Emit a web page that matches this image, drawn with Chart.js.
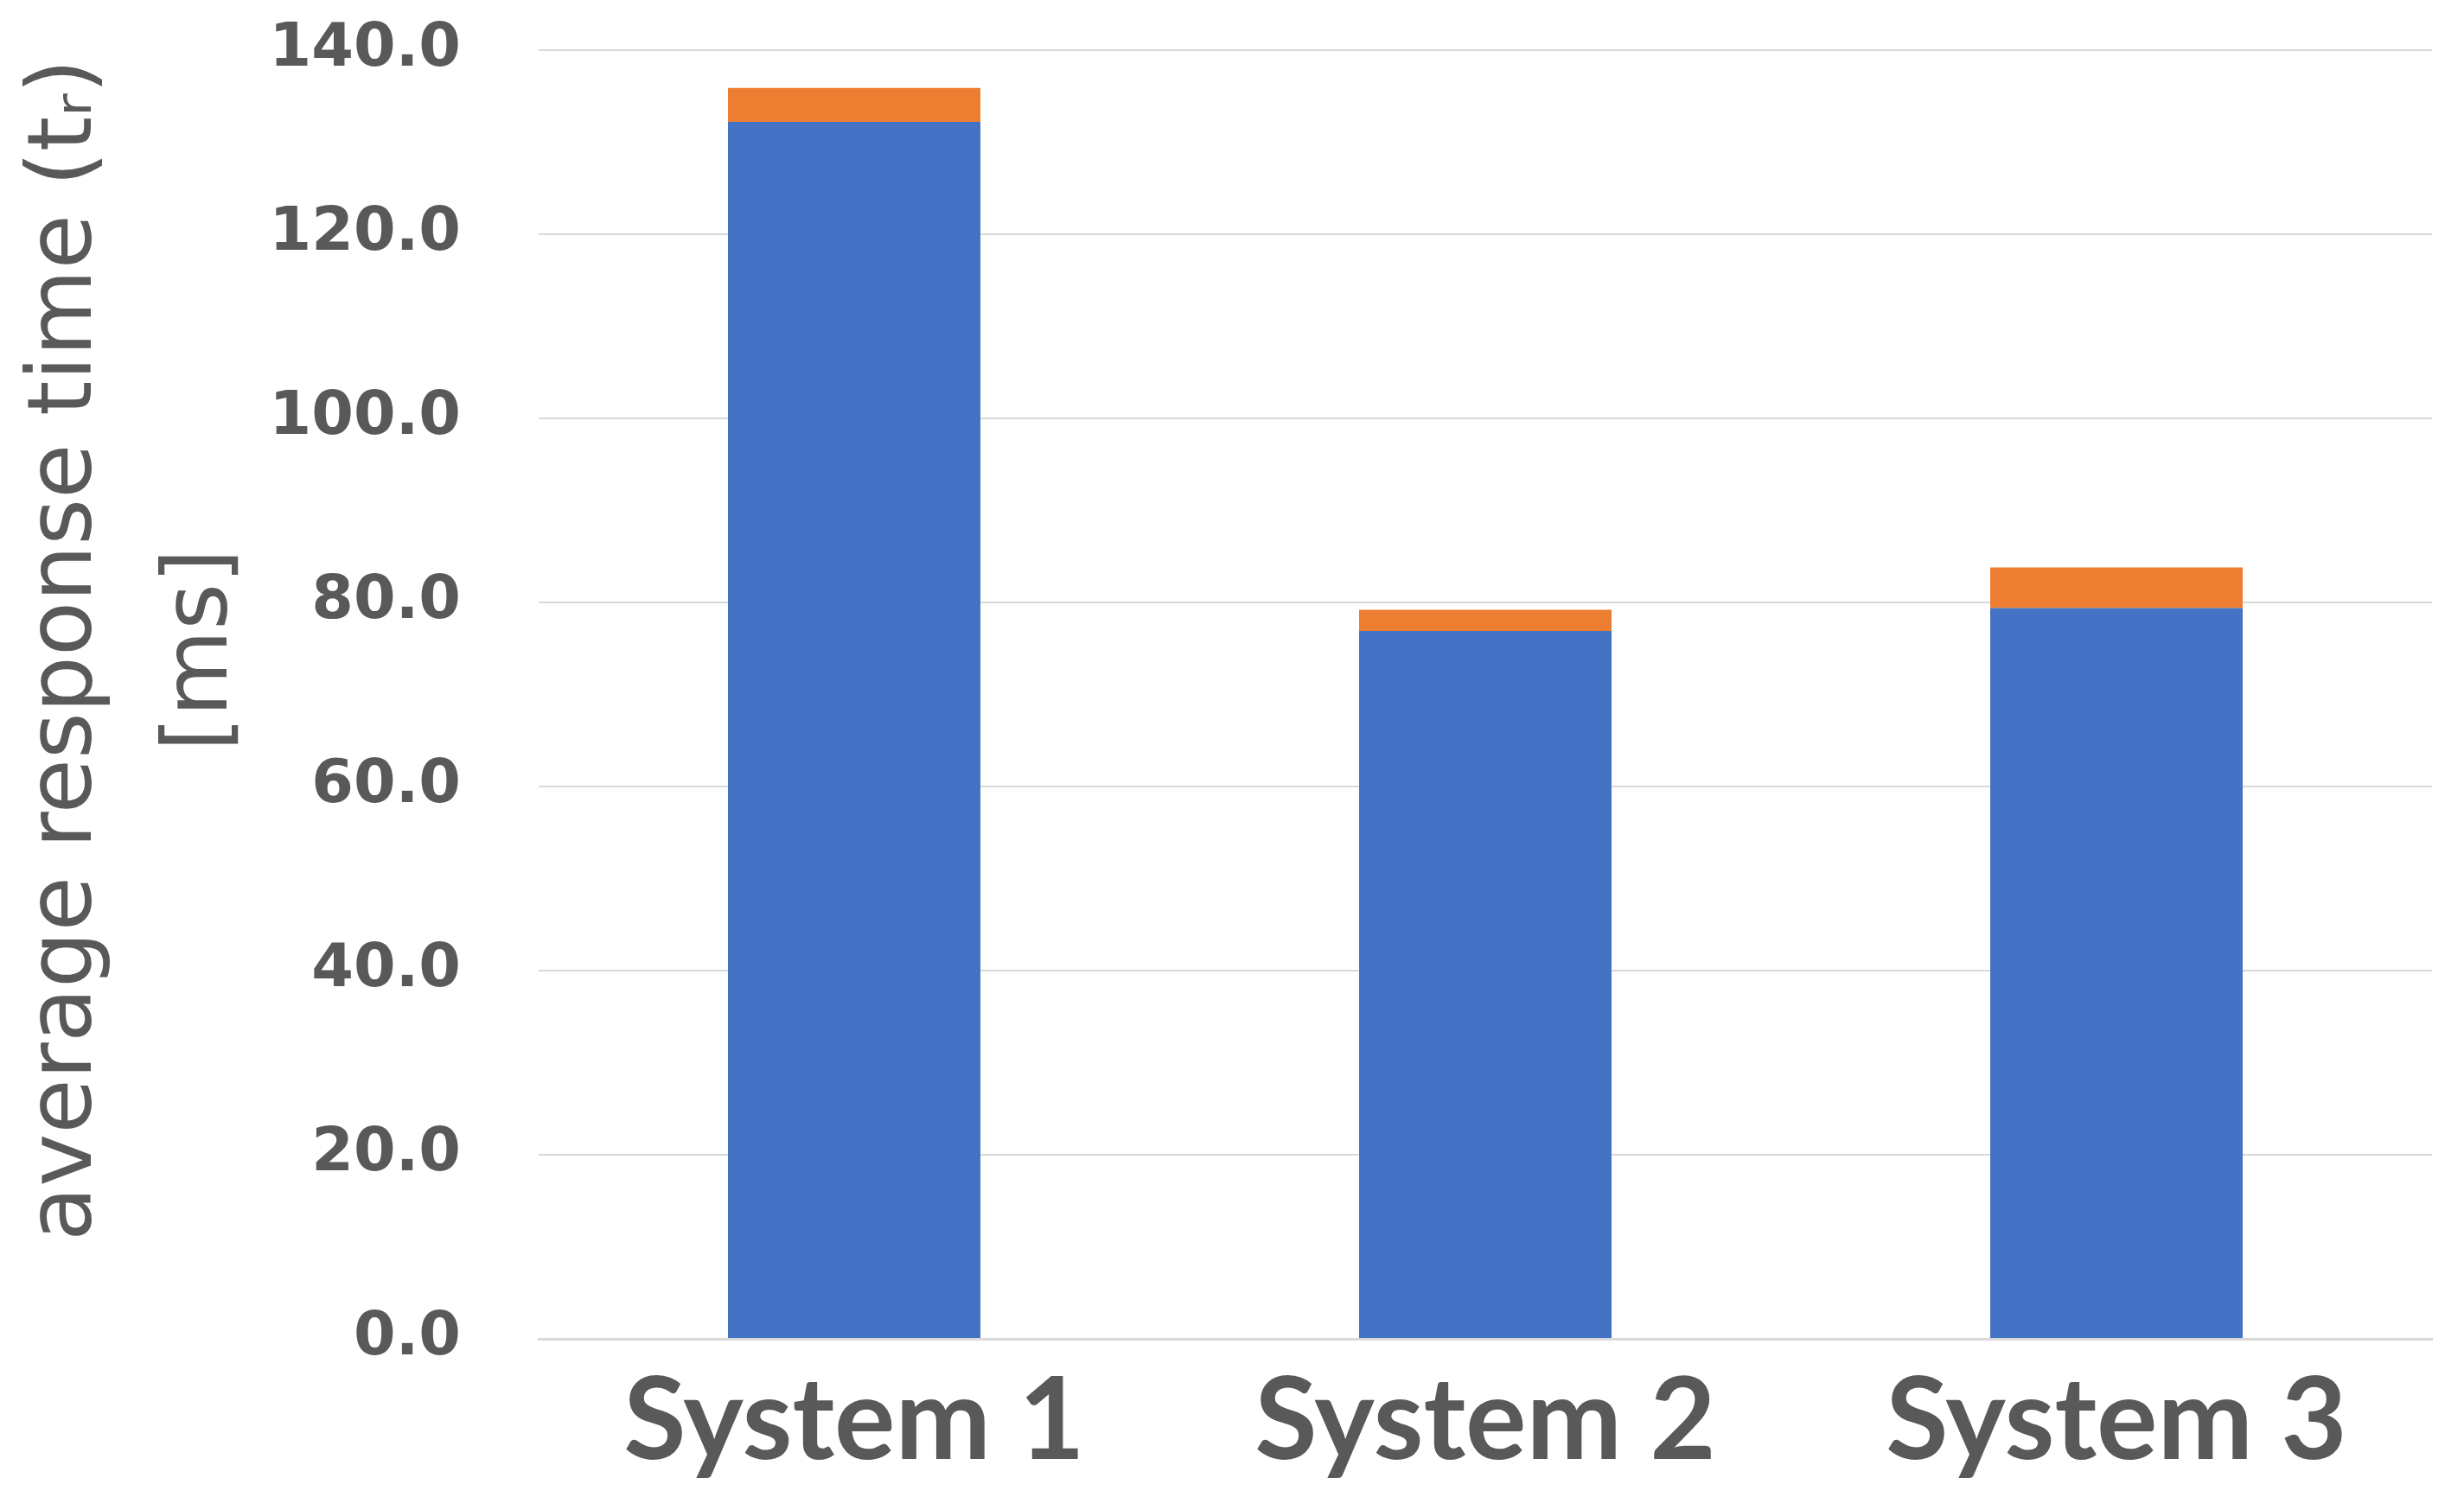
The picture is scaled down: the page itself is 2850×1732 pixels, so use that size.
<!DOCTYPE html>
<html>
<head>
<meta charset="utf-8">
<script src="https://cdn.jsdelivr.net/npm/chart.js@4.4.1/dist/chart.umd.min.js"></script>
<style>
  html, body { margin: 0; padding: 0; background: #ffffff; }
  #wrap { width: 2850px; height: 1732px; }
</style>
</head>
<body>
<div id="wrap"><canvas id="chart" width="2850" height="1732"></canvas></div>
<script>
// Chart data
const systems = ["System 1", "System 2", "System 3"];
const baseTime = [132.2, 76.9, 79.4];
const extraTime = [3.7, 2.3, 4.4];
const yTicks = [0, 20, 40, 60, 80, 100, 120, 140];
// leading em space nudges the rotated title a bit upward, like the original
const yTitle = ["\u2003average response time (t\u1D63)", "\u2003[ms]"];

const textGrey = "#595959";
const gridGrey = "#d9d9d9";

const ctx = document.getElementById("chart");

new Chart(ctx, {
  type: "bar",
  data: {
    labels: systems,
    datasets: [
      {
        label: "base",
        data: baseTime,
        backgroundColor: "#4472c4",
        borderWidth: 0
      },
      {
        label: "extra",
        data: extraTime,
        backgroundColor: "#ed7d31",
        borderWidth: 0
      }
    ]
  },
  options: {
    responsive: false,
    animation: false,
    devicePixelRatio: 1,
    categoryPercentage: 1,
    barPercentage: 0.4,
    layout: {
      padding: { top: 0, right: 37, bottom: 0, left: 0 }
    },
    plugins: {
      legend: { display: false },
      tooltip: { enabled: false }
    },
    scales: {
      x: {
        stacked: true,
        grid: { display: false, drawTicks: false },
        border: { display: true, color: gridGrey, width: 3 },
        ticks: {
          color: textGrey,
          padding: 17,
          font: { family: "Lato", weight: "bold", size: 132 }
        },
        afterFit: function(axis) {
          axis.height = 183;
        }
      },
      y: {
        stacked: true,
        min: 0,
        max: 140,
        afterBuildTicks: function(axis) {
          axis.ticks = yTicks.map(v => ({ value: v }));
        },
        afterFit: function(axis) {
          // fixed axis width and top room so the plot area sits where it does in the original
          axis.width = 623;
          axis.paddingTop = 58;
          axis.paddingBottom = 0;
        },
        grid: { color: gridGrey, lineWidth: 2, drawTicks: false },
        border: { display: false },
        ticks: {
          color: textGrey,
          padding: 90,
          font: { family: "DejaVu Sans", weight: "bold", size: 70 },
          callback: function(v) { return Number(v).toFixed(1); }
        },
        title: {
          display: true,
          text: yTitle,
          color: textGrey,
          font: { family: "DejaVu Sans", size: 103, lineHeight: 1.52 },
          padding: 0
        }
      }
    }
  }
});
</script>
</body>
</html>
